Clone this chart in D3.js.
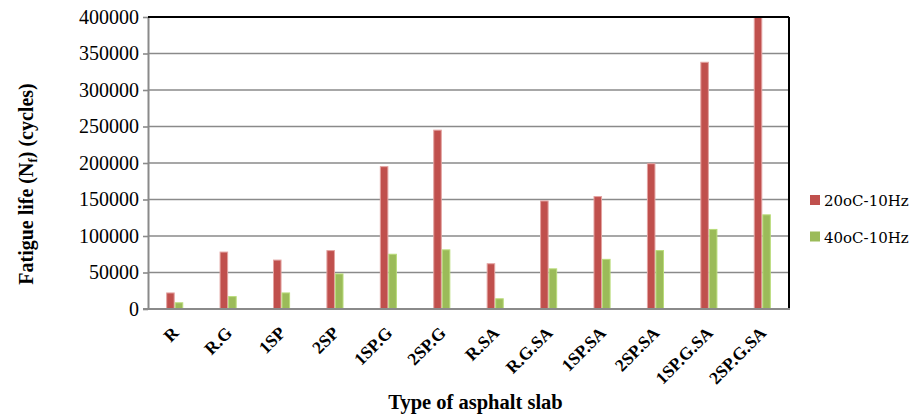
<!DOCTYPE html>
<html lang="en">
<head>
<meta charset="UTF-8">
<title>Fatigue life</title>
<script src="https://d3js.org/d3.v7.min.js"></script>
<style>
  body { margin: 0; background: #fff; }
  svg { display: block; }
</style>
</head>
<body>
<div class="canvas"></div>
<script>
  // data
  const categories = ['R', 'R.G', '1SP', '2SP', '1SP.G', '2SP.G', 'R.SA', 'R.G.SA', '1SP.SA', '2SP.SA', '1SP.G.SA', '2SP.G.SA'];
  const series = ['20oC-10Hz', '40oC-10Hz'];
  const life20 = [22000, 78000, 67000, 80000, 195000, 245000, 62000, 148000, 154000, 199000, 338000, 400000];
  const life40 = [8500, 17000, 22000, 48000, 75000, 81000, 14000, 55000, 68000, 80000, 109000, 129000];
  const yTicks = [0, 50000, 100000, 150000, 200000, 250000, 300000, 350000, 400000];

  const colors = ['#C0504D', '#9BBB59'];
  const edges = ['#E3A3A1', '#B9DC7A'];
  const serif = '"Liberation Serif", "Times New Roman", serif';

  const width = 914, height = 416;
  const [ml, mt, mr, mb] = [148, 17, 125, 107];
  const graphWidth = width - ml - mr;
  const graphHeight = height - mt - mb;

  const svg = d3.select('.canvas').append('svg')
    .attr('width', width)
    .attr('height', height);

  const graph = svg.append('g').attr('transform', `translate(${ml}, ${mt})`);

  const x = d3.scaleBand().domain(categories).range([0, graphWidth]);
  const xs = d3.scaleBand().domain(series).range([x.bandwidth() * 0.34, x.bandwidth() * 0.66]);
  const y = d3.scaleLinear().domain([0, 400000]).range([graphHeight, 0]);

  // gridlines
  graph.append('g')
    .selectAll('line')
    .data(yTicks.slice(1))
    .enter().append('line')
    .attr('x1', 0).attr('x2', graphWidth)
    .attr('y1', d => y(d)).attr('y2', d => y(d))
    .attr('stroke', '#8a8a8a')
    .attr('stroke-width', 1.6);

  // bars
  const rows = categories.map((c, i) => ({ c, vals: [life20[i], life40[i]] }));
  const groups = graph.selectAll('g.grp').data(rows).enter()
    .append('g').attr('class', 'grp')
    .attr('transform', d => `translate(${x(d.c)}, 0)`);

  groups.selectAll('rect')
    .data(d => d.vals.map((v, k) => ({ s: series[k], v, k })))
    .enter().append('rect')
    .attr('x', d => xs(d.s) + 0.5)
    .attr('width', xs.bandwidth() - 1)
    .attr('y', d => y(d.v))
    .attr('height', d => graphHeight - y(d.v))
    .attr('fill', d => colors[d.k])
    .attr('stroke', d => edges[d.k])
    .attr('stroke-width', 1);

  // y axis
  const yAxis = d3.axisLeft(y)
    .tickValues(yTicks)
    .tickFormat(d3.format('d'))
    .tickSize(5)
    .tickSizeOuter(0)
    .tickPadding(4);
  const yAxisG = graph.append('g').call(yAxis).attr('font-family', null);
  yAxisG.select('.domain').attr('stroke', '#8a8a8a').attr('stroke-width', 2);
  yAxisG.selectAll('.tick line').attr('stroke', '#8a8a8a').attr('stroke-width', 1.6);
  yAxisG.selectAll('.tick text')
    .style('font-family', serif)
    .style('font-size', '20px')
    .attr('fill', '#000');

  // plot border: top and right black, bottom gray
  graph.append('line').attr('x1', 0).attr('x2', graphWidth).attr('y1', 0).attr('y2', 0)
    .attr('stroke', '#000').attr('stroke-width', 2);
  graph.append('line').attr('x1', graphWidth).attr('x2', graphWidth).attr('y1', 0).attr('y2', graphHeight)
    .attr('stroke', '#000').attr('stroke-width', 2);
  graph.append('line').attr('x1', -5).attr('x2', graphWidth + 1).attr('y1', graphHeight).attr('y2', graphHeight)
    .attr('stroke', '#8a8a8a').attr('stroke-width', 2);

  // x labels, rotated
  graph.append('g')
    .selectAll('text')
    .data(categories)
    .enter().append('text')
    .attr('transform', d => `translate(${x(d) + x.bandwidth() / 2 + 5}, ${graphHeight + 25}) rotate(-45)`)
    .attr('text-anchor', 'end')
    .style('font-family', serif)
    .style('font-weight', 'bold')
    .style('font-size', '17.5px')
    .text(d => d);

  // axis titles
  svg.append('text')
    .attr('x', ml + graphWidth / 2 + 7)
    .attr('y', 409)
    .attr('text-anchor', 'middle')
    .style('font-family', serif)
    .style('font-weight', 'bold')
    .style('font-size', '20.5px')
    .text('Type of asphalt slab');

  const yTitle = svg.append('text')
    .attr('transform', 'translate(33, 184) rotate(-90)')
    .attr('text-anchor', 'middle')
    .style('font-family', serif)
    .style('font-weight', 'bold')
    .style('font-size', '20px');
  yTitle.append('tspan').text('Fatigue life (N');
  yTitle.append('tspan').style('font-size', '13px').attr('dy', 4).text('f');
  yTitle.append('tspan').attr('dy', -4).text(') (cycles)');

  // legend
  const legend = svg.append('g').attr('transform', 'translate(810, 195)');
  const li = legend.selectAll('g').data(series).enter()
    .append('g').attr('transform', (d, i) => `translate(0, ${i * 36.5})`);
  li.append('rect').attr('width', 10).attr('height', 10)
    .attr('fill', (d, i) => colors[i]);
  li.append('text')
    .attr('x', 14).attr('y', 11)
    .style('font-family', '"DejaVu Serif", serif')
    .style('font-size', '15px')
    .text(d => d);
</script>
</body>
</html>
